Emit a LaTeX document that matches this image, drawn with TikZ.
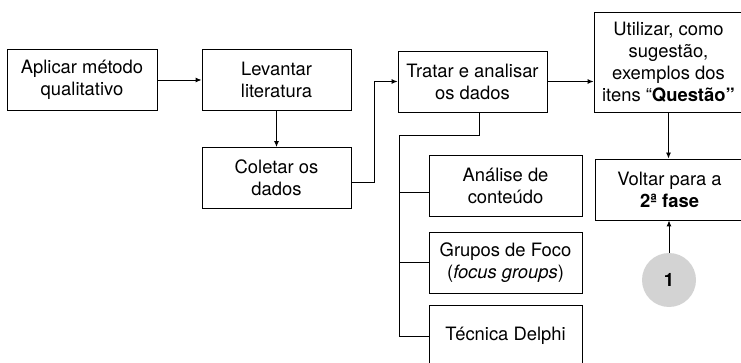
\documentclass[tikz,border=0pt]{standalone}
\usepackage{fontspec}
\setmainfont{TeX Gyre Heros}
\usepackage{xcolor}
\usepackage{tikz}
\usetikzlibrary{arrows.meta}
\definecolor{cinza}{HTML}{D3D3D3}
\tikzset{
  Caixa/.style={draw,line width=0.9pt,align=center,minimum width=#1,minimum height=61pt,inner sep=2pt}, % für Kästen
  Seta/.style={line width=0.9pt,->}, % für Pfeile
  Linha/.style={line width=0.9pt} % für Leitungen
}

\begin{document}
\begin{tikzpicture}[
x=1pt,y=-1pt,
font=\fontsize{18.4}{22}\selectfont,
>={Latex[length=6pt,width=5pt]} % Voreinstellung für Pfeilspitzen
]
\useasboundingbox (0,0) rectangle (741,363);
\clip (0,0) rectangle (741,363);

%Caixas
\node[Caixa=150pt] (aplicar) at (82,80) {Aplicar método\\qualitativo};
\node[Caixa=149pt] (levantar) at (276.5,80) {Levantar\\literatura};
\node[Caixa=149pt] (coletar) at (276.5,178) {Coletar os\\dados};
\node[Caixa=149pt] (tratar) at (472.5,81.5) {Tratar e analisar\\os dados};
\node[Caixa=149pt,minimum height=100pt] (utilizar) at (668.5,62)
  {Utilizar, como\\sugestão,\\exemplos dos\\itens “\textbf{Questão”}};
\node[Caixa=149pt] (voltar) at (669.5,189.5) {Voltar para a\\\textbf{2ª fase}};

\node[Caixa=153pt] (analise) at (505.5,186) {Análise de\\conteúdo};
\node[Caixa=153pt] (grupos) at (505.5,262.5) {Grupos de Foco\\(\textit{focus groups})};
\node[Caixa=153pt] (delphi) at (505.5,336) {Técnica Delphi};

\node[circle,fill=cinza,minimum size=54pt] (um) at (669,280) {\textbf{1}};

%Setas
\draw[Seta] (aplicar) -- (levantar);
\draw[Seta] (levantar) -- (coletar);
\draw[Seta] ([yshift=-4pt]coletar.east) -- ++(23,0) |- (tratar.west);
\draw[Seta] (tratar.east) -- (tratar.east -| utilizar.west);
\draw[Seta] (utilizar.south) -- (utilizar.south |- voltar.north);
\draw[Seta] (um.north) -- (um.north |- voltar.south);

%Linhas
\coordinate (tronco) at (399,135);
\draw[Linha] ([xshift=6.5pt]tratar.south) |- (tronco) |- (delphi.west);
\draw[Linha] (analise.west) ++(0,6) -- ++(-30,0);
\draw[Linha] (grupos.west) -- (grupos.west -| tronco);

\end{tikzpicture}
\end{document}
